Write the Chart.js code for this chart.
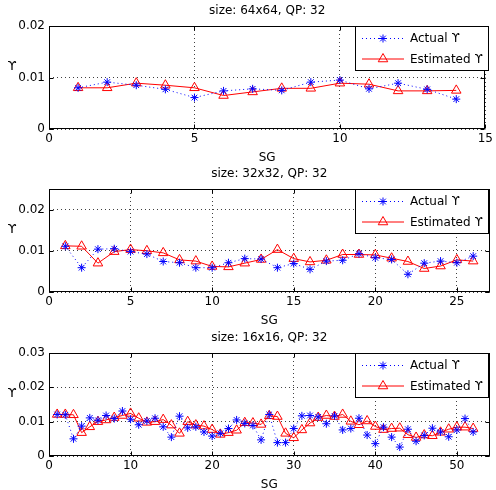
<!DOCTYPE html>
<html>
<head>
<meta charset="utf-8">
<script src="https://cdn.jsdelivr.net/npm/chart.js@4"></script>
<style>
  body { margin: 0; background: #fff; width: 496px; height: 490px; overflow: hidden; position: relative; }
  canvas { position: absolute; left: 0; }
</style>
</head>
<body>
<canvas id="c64" width="496" height="164" style="top:0px"></canvas>
<canvas id="c32" width="496" height="164" style="top:163px"></canvas>
<canvas id="c16" width="496" height="164" style="top:327px"></canvas>
<script>
// size 64x64
const sg64 = [1, 2, 3, 4, 5, 6, 7, 8, 9, 10, 11, 12, 13, 14];
const actual64 = [0.0080, 0.0091, 0.0085, 0.0077, 0.0061, 0.0074, 0.0078, 0.0075, 0.0091, 0.0095, 0.0078, 0.0089, 0.0077, 0.0058];
const estimated64 = [0.0080, 0.0080, 0.0089, 0.0085, 0.0080, 0.0065, 0.0072, 0.0079, 0.0079, 0.0089, 0.0087, 0.0074, 0.0074, 0.0075];
const xTicks64 = [0, 5, 10, 15];
const yTicks64 = [0, 0.01, 0.02];

// size 32x32
const sg32 = [1, 2, 3, 4, 5, 6, 7, 8, 9, 10, 11, 12, 13, 14, 15, 16, 17, 18, 19, 20, 21, 22, 23, 24, 25, 26];
const actual32 = [0.0111, 0.0059, 0.0104, 0.0105, 0.0098, 0.0092, 0.0074, 0.0071, 0.0059, 0.0059, 0.0071, 0.0081, 0.0080, 0.0059, 0.0069, 0.0055, 0.0075, 0.0077, 0.0093, 0.0083, 0.0079, 0.0043, 0.0070, 0.0075, 0.0071, 0.0087];
const estimated32 = [0.0112, 0.0111, 0.0070, 0.0098, 0.0103, 0.0100, 0.0095, 0.0078, 0.0075, 0.0062, 0.0061, 0.0070, 0.0079, 0.0103, 0.0081, 0.0073, 0.0077, 0.0091, 0.0091, 0.0090, 0.0082, 0.0074, 0.0057, 0.0063, 0.0078, 0.0075];
const xTicks32 = [0, 5, 10, 15, 20, 25];
const yTicks32 = [0, 0.01, 0.02];

// size 16x16
const sg16 = [1, 2, 3, 4, 5, 6, 7, 8, 9, 10, 11, 12, 13, 14, 15, 16, 17, 18, 19, 20, 21, 22, 23, 24, 25, 26,
  27, 28, 29, 30, 31, 32, 33, 34, 35, 36, 37, 38, 39, 40, 41, 42, 43, 44, 45, 46, 47, 48, 49, 50, 51, 52];
const actual16 = [0.0121, 0.0120, 0.0050, 0.0087, 0.0111, 0.0104, 0.0118, 0.0109, 0.0131, 0.0107,
  0.0091, 0.0102, 0.0110, 0.0085, 0.0055, 0.0116, 0.0082, 0.0085, 0.0070, 0.0058,
  0.0066, 0.0080, 0.0105, 0.0095, 0.0089, 0.0047, 0.0121, 0.0039, 0.0039, 0.0080,
  0.0117, 0.0118, 0.0114, 0.0094, 0.0117, 0.0076, 0.0080, 0.0110, 0.0061, 0.0036,
  0.0084, 0.0055, 0.0026, 0.0078, 0.0043, 0.0060, 0.0081, 0.0070, 0.0056, 0.0076,
  0.0109, 0.0070];
const estimated16 = [0.0121, 0.0121, 0.0120, 0.0068, 0.0085, 0.0100, 0.0105, 0.0112, 0.0118, 0.0124,
  0.0110, 0.0098, 0.0100, 0.0106, 0.0090, 0.0066, 0.0100, 0.0090, 0.0087, 0.0077,
  0.0063, 0.0068, 0.0075, 0.0097, 0.0096, 0.0092, 0.0117, 0.0115, 0.0066, 0.0053,
  0.0076, 0.0096, 0.0112, 0.0118, 0.0115, 0.0121, 0.0101, 0.0091, 0.0102, 0.0086,
  0.0077, 0.0080, 0.0081, 0.0062, 0.0054, 0.0061, 0.0059, 0.0069, 0.0078, 0.0084,
  0.0084, 0.0080];
const xTicks16 = [0, 10, 20, 30, 40, 50];
const yTicks16 = [0, 0.01, 0.02, 0.03];

const FONT = "DejaVu Sans";
const UPS = "\u03D2";

// box, inner ticks, title, axis labels and legend, matlab style
const matlabFrame = {
  id: "matlabFrame",
  afterDraw(chart, args, opts) {
    const { ctx, chartArea: a, scales } = chart;
    const L = Math.round(a.left) + 0.5, R = Math.round(a.right) - 0.5;
    const T = Math.round(a.top) + 0.5, B = Math.round(a.bottom) - 0.5;
    ctx.save();
    ctx.strokeStyle = "#000";
    ctx.lineWidth = 1;
    ctx.setLineDash([]);
    ctx.strokeRect(L, T, R - L, B - T);

    // inner tick marks on all four sides
    ctx.beginPath();
    scales.x.ticks.forEach(t => {
      const px = Math.round(scales.x.getPixelForValue(t.value)) + 0.5;
      ctx.moveTo(px, B); ctx.lineTo(px, B - 4);
      ctx.moveTo(px, T); ctx.lineTo(px, T + 4);
    });
    scales.y.ticks.forEach(t => {
      const py = Math.round(scales.y.getPixelForValue(t.value)) + 0.5;
      ctx.moveTo(L, py); ctx.lineTo(L + 4, py);
      ctx.moveTo(R, py); ctx.lineTo(R - 4, py);
    });
    ctx.stroke();

    // title and labels
    ctx.fillStyle = "#000";
    ctx.font = "12px '" + FONT + "'";
    ctx.textAlign = "center";
    ctx.textBaseline = "middle";
    ctx.fillText(opts.title, (a.left + a.right) / 2, 11);
    ctx.fillText("SG", (a.left + a.right) / 2, 158);
    ctx.font = "13px '" + FONT + "'";
    ctx.fillText(UPS, 12, 67);

    // legend box
    const lx = 355, ly = 26, lw = 134, lh = 45;
    ctx.fillStyle = "#fff";
    ctx.fillRect(lx, ly, lw, lh);
    ctx.strokeStyle = "#000";
    ctx.strokeRect(lx + 0.5, ly + 0.5, lw - 1, lh - 1);
    chart.data.datasets.forEach((ds, i) => {
      const ry = ly + 12.5 + i * 20.5;
      ctx.strokeStyle = ds.borderColor;
      ctx.lineWidth = ds.borderWidth;
      ctx.setLineDash(ds.borderDash || []);
      ctx.beginPath();
      ctx.moveTo(362, ry); ctx.lineTo(404, ry);
      ctx.stroke();
      ctx.setLineDash([]);
      ctx.fillStyle = ds.pointBackgroundColor;
      ctx.strokeStyle = ds.pointBorderColor;
      Chart.helpers.drawPoint(ctx, {
        pointStyle: ds.pointStyle, radius: ds.pointRadius,
        borderWidth: ds.pointBorderWidth, rotation: 0
      }, 383, ry);
      ctx.fillStyle = "#000";
      ctx.font = "12px '" + FONT + "'";
      ctx.textAlign = "left";
      ctx.fillText(ds.label, 410, ry + 0.5);
    });
    ctx.restore();
  }
};

function makeChart(id, title, sg, actual, estimated, xMax, yMax, xTicks, yTicks) {
  const canvas = document.getElementById(id);
  return new Chart(canvas, {
    type: "line",
    data: {
      datasets: [
        {
          label: "Actual " + UPS,
          data: sg.map((s, i) => ({ x: s, y: actual[i] })),
          borderColor: "rgb(0,0,255)",
          borderWidth: 1,
          borderDash: [1, 3],
          pointStyle: "star",
          pointRadius: 4,
          pointBorderWidth: 1,
          pointBorderColor: "rgb(0,0,255)",
          pointBackgroundColor: "rgb(0,0,255)",
          fill: false,
          tension: 0,
        },
        {
          label: "Estimated " + UPS,
          data: sg.map((s, i) => ({ x: s, y: estimated[i] })),
          borderColor: "rgb(255,0,0)",
          borderWidth: 1,
          pointStyle: "triangle",
          pointRadius: 5.5,
          pointBorderWidth: 1,
          pointBorderColor: "rgb(255,0,0)",
          pointBackgroundColor: "rgba(0,0,0,0)",
          fill: false,
          tension: 0,
        },
      ],
    },
    options: {
      responsive: false,
      animation: false,
      devicePixelRatio: 1,
      layout: { padding: { top: 26, right: 6, bottom: 0, left: 0 } },
      scales: {
        x: {
          type: "linear",
          min: 0,
          max: xMax,
          afterFit: s => { s.height = 35; },
          afterBuildTicks: s => { s.ticks = xTicks.map(v => ({ value: v })); },
          grid: { color: "rgba(0,0,0,0.75)", lineWidth: 1, drawTicks: false },
          border: { display: false, dash: [1, 3] },
          ticks: {
            padding: 3,
            color: "#000",
            font: { family: FONT, size: 12 },
            maxRotation: 0,
            callback: v => String(v),
          },
        },
        y: {
          min: 0,
          max: yMax,
          afterFit: s => { s.width = 49; },
          afterBuildTicks: s => { s.ticks = yTicks.map(v => ({ value: v })); },
          grid: { color: "rgba(0,0,0,0.75)", lineWidth: 1, drawTicks: false },
          border: { display: false, dash: [1, 3] },
          ticks: {
            padding: 4,
            color: "#000",
            font: { family: FONT, size: 12 },
            callback: v => String(v),
          },
        },
      },
      plugins: {
        legend: { display: false },
        title: { display: false },
        tooltip: { enabled: false },
        matlabFrame: { title: title },
      },
    },
    plugins: [matlabFrame],
  });
}

makeChart("c64", "size: 64x64, QP: 32", sg64, actual64, estimated64, 15, 0.02, xTicks64, yTicks64);
makeChart("c32", "size: 32x32, QP: 32", sg32, actual32, estimated32, 27, 0.025, xTicks32, yTicks32);
makeChart("c16", "size: 16x16, QP: 32", sg16, actual16, estimated16, 54, 0.03, xTicks16, yTicks16);
</script>
</body>
</html>
